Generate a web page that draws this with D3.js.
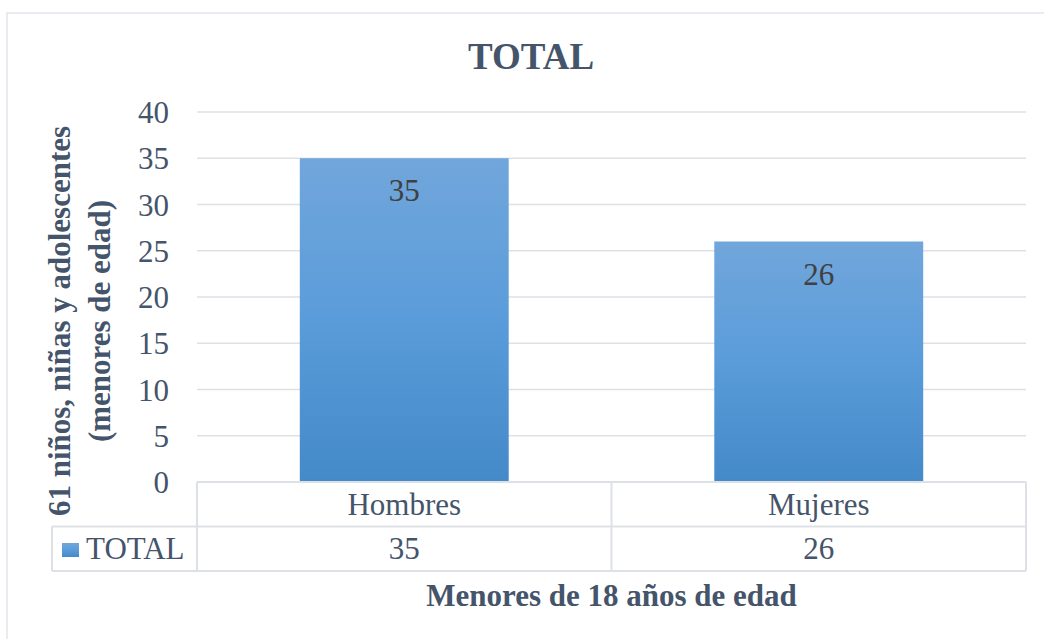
<!DOCTYPE html>
<html lang="es">
<head>
<meta charset="utf-8" />
<style>
  body { margin: 0; background: #fff; }
  text { font-family: "Times New Roman", "Liberation Serif", serif; }
</style>
</head>
<body>
<svg width="1044" height="639"></svg>
<script src="https://d3js.org/d3.v7.min.js"></script>
<script>
var categories = ["Hombres", "Mujeres"],
    values = [35, 26],
    seriesName = "TOTAL",
    yTicks = [0, 5, 10, 15, 20, 25, 30, 35, 40];

var svg = d3.select("svg"),
    plotLeft = 197, plotRight = 1026, plotTop = 112, plotBottom = 482,
    rowH = 44.5,
    textColor = "#44546A",
    lineColor = "#DDE1E6";

// chart border
svg.append("rect")
  .attr("x", 7).attr("y", 13)
  .attr("width", 1100).attr("height", 700)
  .attr("fill", "none")
  .attr("stroke", "#E1E5EA")
  .attr("stroke-width", 1.5);

var defs = svg.append("defs");
var grad = defs.append("linearGradient")
  .attr("id", "barGrad")
  .attr("x1", 0).attr("y1", 0).attr("x2", 0).attr("y2", 1);
grad.append("stop").attr("offset", "0%").attr("stop-color", "#71A6DB");
grad.append("stop").attr("offset", "50%").attr("stop-color", "#5A9CDA");
grad.append("stop").attr("offset", "100%").attr("stop-color", "#4489C8");

var x = d3.scaleBand()
  .domain(categories)
  .range([plotLeft, plotRight])
  .paddingInner(0)
  .paddingOuter(0);

var y = d3.scaleLinear()
  .domain([0, 40])
  .range([plotBottom, plotTop]);

// gridlines
svg.append("g")
  .selectAll("line")
  .data(yTicks.filter(function(d) { return d > 0; }))
  .enter()
  .append("line")
  .attr("x1", plotLeft).attr("x2", plotRight)
  .attr("y1", function(d) { return y(d); })
  .attr("y2", function(d) { return y(d); })
  .attr("stroke", lineColor)
  .attr("stroke-width", 1.5);

// y axis labels
var yAxis = svg.append("g")
  .attr("transform", "translate(" + plotLeft + ",0)")
  .call(d3.axisLeft(y).tickValues(yTicks).tickSize(0).tickPadding(28));
yAxis.select(".domain").remove();
yAxis.selectAll("text")
  .style("font-family", "'Times New Roman', 'Liberation Serif', serif")
  .style("font-size", "31px")
  .attr("fill", textColor)
  .attr("dy", "0.34em");

// bars
var barW = x.bandwidth() * 0.504;
svg.append("g")
  .selectAll("rect")
  .data(values)
  .enter()
  .append("rect")
  .attr("x", function(d, i) { return x(categories[i]) + (x.bandwidth() - barW) / 2; })
  .attr("y", function(d) { return y(d); })
  .attr("width", barW)
  .attr("height", function(d) { return plotBottom - y(d); })
  .attr("fill", "url(#barGrad)");

// data labels
svg.append("g")
  .selectAll("text")
  .data(values)
  .enter()
  .append("text")
  .attr("x", function(d, i) { return x(categories[i]) + x.bandwidth() / 2; })
  .attr("y", function(d) { return y(d) + 43; })
  .attr("text-anchor", "middle")
  .attr("fill", "#404040")
  .style("font-size", "31px")
  .text(function(d) { return d; });

// data table
var tbl = svg.append("g").attr("fill", "none").attr("stroke", lineColor).attr("stroke-width", 2);
tbl.append("line").attr("x1", plotLeft).attr("x2", plotRight).attr("y1", plotBottom).attr("y2", plotBottom);
tbl.append("line").attr("x1", 52).attr("x2", plotRight).attr("y1", plotBottom + rowH).attr("y2", plotBottom + rowH);
tbl.append("line").attr("x1", 52).attr("x2", plotRight).attr("y1", plotBottom + rowH * 2).attr("y2", plotBottom + rowH * 2);
tbl.append("line").attr("x1", 52).attr("x2", 52).attr("y1", plotBottom + rowH).attr("y2", plotBottom + rowH * 2);
[plotLeft].concat(categories.map(function(c) { return x(c) + x.bandwidth(); })).forEach(function(xx) {
  tbl.append("line").attr("x1", xx).attr("x2", xx).attr("y1", plotBottom).attr("y2", plotBottom + rowH * 2);
});

svg.append("g")
  .selectAll("text")
  .data(categories)
  .enter()
  .append("text")
  .attr("x", function(d) { return x(d) + x.bandwidth() / 2; })
  .attr("y", plotBottom + 33)
  .attr("text-anchor", "middle")
  .attr("fill", textColor)
  .style("font-size", "31px")
  .text(function(d) { return d; });

svg.append("g")
  .selectAll("text")
  .data(values)
  .enter()
  .append("text")
  .attr("x", function(d, i) { return x(categories[i]) + x.bandwidth() / 2; })
  .attr("y", plotBottom + rowH + 32)
  .attr("text-anchor", "middle")
  .attr("fill", textColor)
  .style("font-size", "31px")
  .text(function(d) { return d; });

// legend key in table
svg.append("rect")
  .attr("x", 62).attr("y", 543)
  .attr("width", 17).attr("height", 14)
  .attr("fill", "url(#barGrad)");
svg.append("text")
  .attr("x", 86).attr("y", plotBottom + rowH + 32)
  .attr("fill", textColor)
  .style("font-size", "31px")
  .text(seriesName);

// title
svg.append("text")
  .attr("x", 531).attr("y", 69)
  .attr("text-anchor", "middle")
  .attr("fill", textColor)
  .style("font-size", "37px")
  .style("font-weight", "bold")
  .text("TOTAL");

// x axis title
svg.append("text")
  .attr("x", (plotLeft + plotRight) / 2).attr("y", 606)
  .attr("text-anchor", "middle")
  .attr("fill", textColor)
  .style("font-size", "31px")
  .style("font-weight", "bold")
  .text("Menores de 18 años de edad");

// y axis title
var yt = svg.append("text")
  .attr("transform", "translate(0,321) rotate(-90)")
  .attr("text-anchor", "middle")
  .attr("fill", textColor)
  .style("font-size", "31px")
  .style("font-weight", "bold");
yt.append("tspan").attr("x", 0).attr("y", 70).text("61 niños, niñas y adolescentes");
yt.append("tspan").attr("x", 0).attr("y", 110).text("(menores de edad)");
</script>
</body>
</html>
